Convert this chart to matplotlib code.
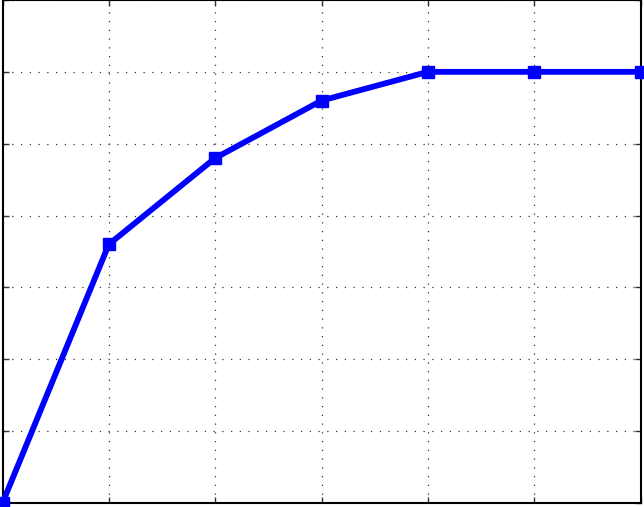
import matplotlib
matplotlib.use("Agg")
import matplotlib.pyplot as plt

x_vals = [0, 1, 2, 3, 4, 5, 6]
y_vals = [0.0, 3.6, 4.8, 5.6, 6.0, 6.0, 6.0]
x_ticks = [0, 1, 2, 3, 4, 5, 6]
y_ticks = [0, 1, 2, 3, 4, 5, 6, 7]

W, H = 644, 507
fig = plt.figure(figsize=(W / 100, H / 100), dpi=100)
ax = fig.add_axes([2.5 / W, 4.0 / H, (640.5 - 2.5) / W, 503.0 / H])
ax.plot(x_vals, y_vals, color="#0000ff", linewidth=4.2, marker="s",
        markersize=8, markerfacecolor="#0000ff", markeredgecolor="#0000ff",
        clip_on=False, zorder=3)
ax.set_xlim(0, 6)
ax.set_ylim(0, 7)
ax.set_xticks(x_ticks)
ax.set_yticks(y_ticks)
ax.set_xticklabels([])
ax.set_yticklabels([])
ax.tick_params(direction="in", length=4, width=1, top=True, right=True, color="#333333")
ax.grid(True, linestyle=(0, (1, 6)), color="#333333", linewidth=0.9)
for s in ax.spines.values():
    s.set_linewidth(1.5)
    s.set_color("black")
fig.savefig("out.png", dpi=100)
